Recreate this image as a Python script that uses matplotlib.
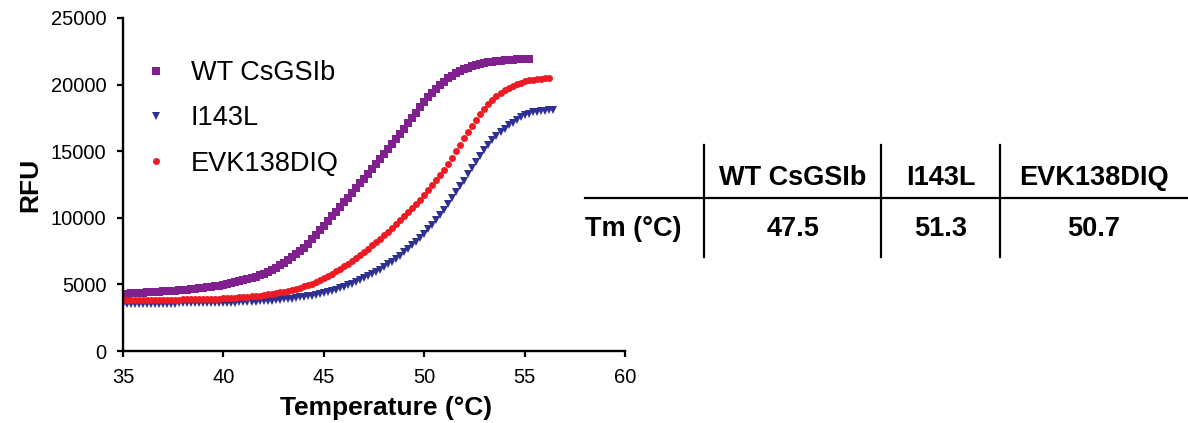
import numpy as np
import matplotlib
matplotlib.use("Agg")
import matplotlib.pyplot as plt
from matplotlib.lines import Line2D

plt.rcParams['font.family'] = ['Liberation Sans', 'DejaVu Sans']

# melt curves, 0.2 C steps from 35 C
t_start = 35.0
t_step = 0.2

wt_rfu = [4300, 4315, 4330, 4345, 4365, 4380, 4395, 4410, 4430, 4450,
          4470, 4490, 4510, 4530, 4555, 4580, 4605, 4635, 4665, 4695,
          4730, 4770, 4810, 4855, 4900, 4950, 5010, 5075, 5145, 5220,
          5300, 5385, 5480, 5580, 5690, 5800, 5940, 6090, 6250, 6420,
          6600, 6810, 7030, 7260, 7500, 7750, 8070, 8400, 8730, 9060,
          9400, 9750, 10100, 10450, 10800, 11150, 11510, 11870, 12230, 12590,
          12950, 13320, 13690, 14060, 14430, 14800, 15180, 15560, 15940, 16320,
          16700, 17100, 17500, 17900, 18300, 18700, 19050, 19380, 19690, 19970,
          20230, 20460, 20660, 20840, 21000, 21140, 21260, 21370, 21460, 21540,
          21610, 21670, 21720, 21760, 21800, 21830, 21860, 21880, 21900, 21910,
          21920, 21910]

i143l_rfu = [3550, 3551, 3552, 3553, 3554, 3555, 3556, 3557, 3558, 3559,
             3560, 3562, 3564, 3566, 3568, 3570, 3573, 3576, 3579, 3582,
             3585, 3589, 3594, 3599, 3604, 3610, 3618, 3627, 3637, 3648,
             3660, 3674, 3689, 3705, 3722, 3740, 3762, 3786, 3812, 3840,
             3870, 3904, 3940, 3978, 4018, 4060, 4110, 4165, 4222, 4284,
             4350, 4430, 4515, 4605, 4700, 4800, 4920, 5045, 5175, 5310,
             5450, 5610, 5770, 5940, 6115, 6300, 6500, 6710, 6930, 7160,
             7400, 7660, 7930, 8210, 8500, 8800, 9140, 9490, 9850, 10220,
             10600, 11030, 11470, 11910, 12350, 12800, 13270, 13740, 14200, 14660,
             15100, 15480, 15830, 16160, 16450, 16700, 16930, 17140, 17350, 17550,
             17700, 17820, 17910, 17980, 18020, 18050, 18060, 18060]

evk_rfu = [3800, 3804, 3808, 3812, 3816, 3820, 3825, 3830, 3835, 3840,
           3845, 3850, 3855, 3860, 3865, 3870, 3877, 3884, 3891, 3898,
           3905, 3913, 3922, 3931, 3940, 3950, 3966, 3984, 4004, 4026,
           4050, 4076, 4104, 4134, 4166, 4200, 4245, 4293, 4343, 4395,
           4450, 4520, 4595, 4675, 4760, 4850, 4955, 5065, 5185, 5315,
           5450, 5620, 5790, 5970, 6160, 6350, 6560, 6780, 7000, 7220,
           7450, 7690, 7940, 8190, 8440, 8700, 8970, 9240, 9520, 9810,
           10100, 10410, 10720, 11040, 11370, 11700, 12060, 12430, 12810, 13200,
           13600, 14050, 14520, 15000, 15500, 16000, 16470, 16920, 17360, 17790,
           18200, 18540, 18850, 19120, 19360, 19560, 19740, 19900, 20030, 20140,
           20240, 20320, 20380, 20420, 20450, 20470, 20470]

names = ["WT CsGSIb", "I143L", "EVK138DIQ"]
tm_values = ["47.5", "51.3", "50.7"]


def temps(vals):
    return t_start + t_step * np.arange(len(vals))


fig = plt.figure(figsize=(11.88, 4.23), dpi=100)
ax = fig.add_axes([123 / 1188, 72 / 423, 502 / 1188, 333 / 423])

ax.plot(temps(wt_rfu), wt_rfu, ls='none', marker='s', ms=5.3, mew=0,
        color='#80208f', label=names[0])
ax.plot(temps(i143l_rfu), i143l_rfu, ls='none', marker='v', ms=5.2, mew=0,
        color='#2e3192', label=names[1])
ax.plot(temps(evk_rfu), evk_rfu, ls='none', marker='o', ms=5.0, mew=0,
        color='#ed1c24', label=names[2])

ax.set_xlim(35, 60)
ax.set_ylim(0, 25000)
ax.set_xticks([35, 40, 45, 50, 55, 60])
ax.set_yticks([0, 5000, 10000, 15000, 20000, 25000])
ax.tick_params(labelsize=14.5, width=1.6, length=4, direction='out', pad=8)
for s in ['top', 'right']:
    ax.spines[s].set_visible(False)
for s in ['left', 'bottom']:
    ax.spines[s].set_linewidth(1.7)

ax.set_xlabel('Temperature (°C)', fontsize=19, fontweight='bold', labelpad=7)
ax.xaxis.set_label_coords(0.524, -0.135)
ax.set_ylabel('RFU', fontsize=19, fontweight='bold', labelpad=6)

ax.legend(loc='upper left', bbox_to_anchor=(0.0, 0.93), frameon=False,
          fontsize=19.5, handlelength=1.0, handletextpad=0.8,
          labelspacing=0.71, borderaxespad=0.3, markerscale=1.0)

# Tm table on the right
W, H = 1188, 423
def fx(px):
    return px / W
def fy(py):
    return 1 - py / H

fig.add_artist(Line2D([fx(585), fx(1188)], [fy(198), fy(198)], color='black', lw=1.6))
for xl in [704, 881, 1000]:
    fig.add_artist(Line2D([fx(xl), fx(xl)], [fy(145), fy(257)], color='black', lw=1.6))

col_x = [793, 941, 1094]
for cx, nm, tm in zip(col_x, names, tm_values):
    fig.text(fx(cx), fy(178), nm, ha='center', va='center', fontsize=19.5, fontweight='bold')
    fig.text(fx(cx), fy(229), tm, ha='center', va='center', fontsize=19.5, fontweight='bold')
fig.text(fx(585), fy(229), 'Tm (°C)', ha='left', va='center', fontsize=19.5, fontweight='bold')

fig.savefig('out.png', dpi=100)
